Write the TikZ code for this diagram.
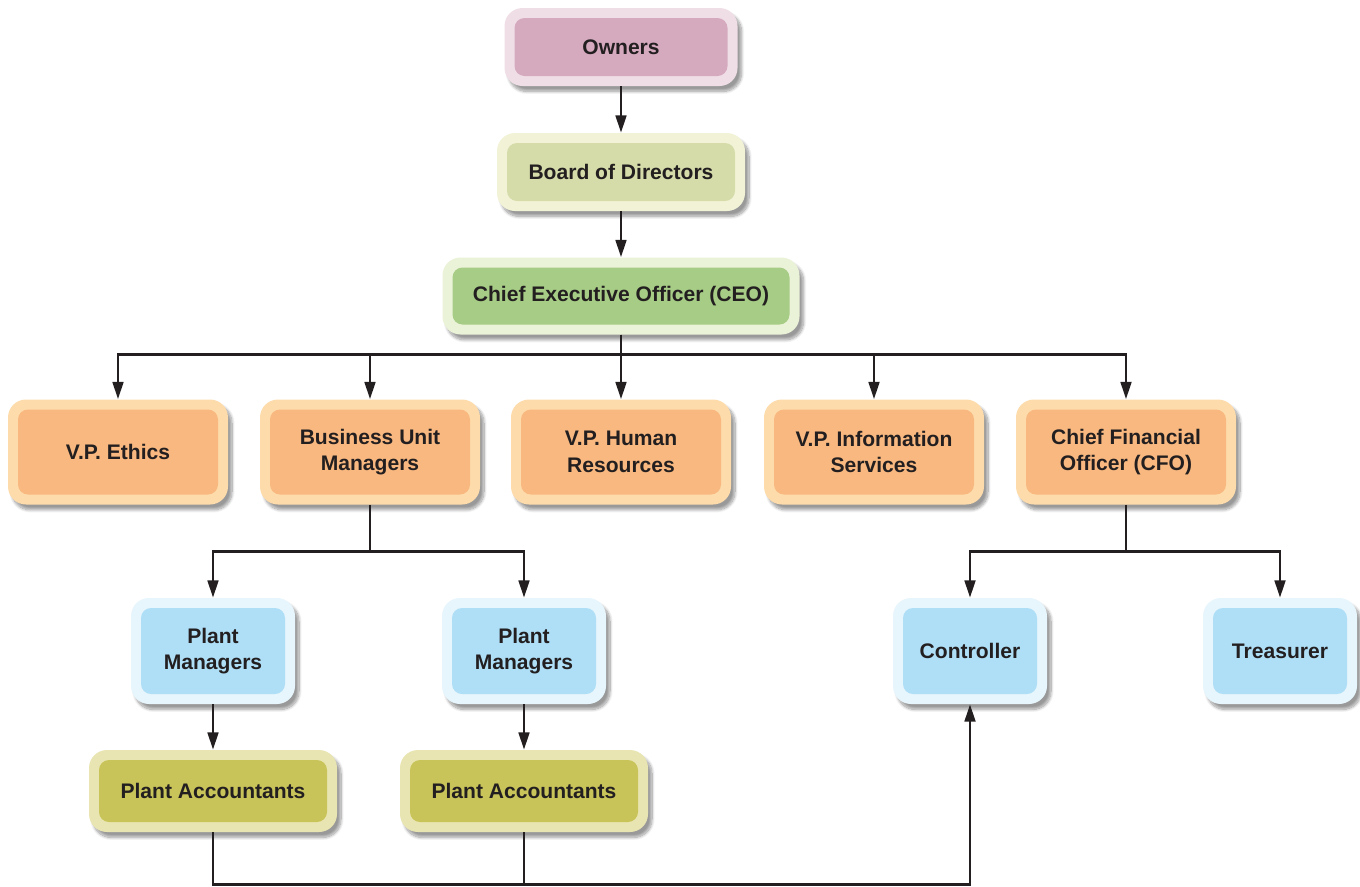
\documentclass[tikz,border=0pt]{standalone}
\usepackage{fontspec}
\setmainfont{Liberation Sans}
\usetikzlibrary{arrows.meta,shadows.blur}
\definecolor{txt}{HTML}{231F20}
\definecolor{ownIn}{HTML}{D5AABF}\definecolor{ownOut}{HTML}{F0DEE6}
\definecolor{brdIn}{HTML}{D5DCA9}\definecolor{brdOut}{HTML}{F2F3D6}
\definecolor{ceoIn}{HTML}{A6CC85}\definecolor{ceoOut}{HTML}{EAF2D7}
\definecolor{orIn}{HTML}{F8B880}\definecolor{orOut}{HTML}{FDDBAA}
\definecolor{blIn}{HTML}{AEDFF7}\definecolor{blOut}{HTML}{E7F5FC}
\definecolor{paIn}{HTML}{C8C45A}\definecolor{paOut}{HTML}{E9E5B2}
\tikzset{
  orgbox/.style 2 args={draw=none, fill=#2, rounded corners=13.5pt, inner sep=0pt,
    align=center, text=txt, font=\fontsize{15.8}{20}\selectfont\bfseries,
    blur shadow={shadow xshift=3pt, shadow yshift=-4pt, shadow blur steps=10, shadow opacity=40},
    path picture={\fill[#1, rounded corners=7.5pt]
      ([xshift=7.5pt,yshift=7.5pt]path picture bounding box.south west) rectangle
      ([xshift=-7.5pt,yshift=-7.5pt]path picture bounding box.north east);}},
  conn/.style={draw=txt, line width=2pt},
  arr/.style={conn, -{Triangle[length=13pt,width=8pt]}}
}
\begin{document}
\begin{tikzpicture}[x=0.75pt,y=-0.75pt]
\useasboundingbox (0,0) rectangle (1360,886);
\node[orgbox={ownIn}{ownOut}, minimum width=174.75pt, minimum height=58.5pt] (own) at (621,47) {Owners};
\node[orgbox={brdIn}{brdOut}, minimum width=186pt, minimum height=58.5pt] (brd) at (621,172) {Board of Directors};
\node[orgbox={ceoIn}{ceoOut}, minimum width=267.75pt, minimum height=57.75pt] (ceo) at (621,296) {Chief Executive Officer (CEO)};
\foreach \n/\x/\t in {eth/118/{V.P. Ethics}, bum/370/{Business Unit\\Managers}, hr/621/{V.P. Human\\Resources}, vis/874/{V.P. Information\\Services}, cfo/1126/{Chief Financial\\Officer (CFO)}}
  \node[orgbox={orIn}{orOut}, minimum width=165pt, minimum height=78.75pt] (\n) at (\x,452) {\t};
\node[orgbox={blIn}{blOut}, minimum width=123pt, minimum height=79.5pt] (pm1) at (213,651) {Plant\\Managers};
\node[orgbox={blIn}{blOut}, minimum width=123pt, minimum height=79.5pt] (pm2) at (524,651) {Plant\\Managers};
\node[orgbox={blIn}{blOut}, minimum width=115.5pt, minimum height=79.5pt] (ctl) at (970,651) {Controller};
\node[orgbox={blIn}{blOut}, minimum width=115.5pt, minimum height=79.5pt] (tre) at (1280,651) {Treasurer};
\node[orgbox={paIn}{paOut}, minimum width=186pt, minimum height=61.5pt] (pa1) at (213,791) {Plant Accountants};
\node[orgbox={paIn}{paOut}, minimum width=186pt, minimum height=61.5pt] (pa2) at (524,791) {Plant Accountants};
% connectors
\draw[arr] (own) -- (brd);
\draw[arr] (brd) -- (ceo);
\foreach \n in {eth,bum,vis,cfo}
  \draw[arr] (ceo.south) -- ++(0,20) -| (\n.north);
\draw[arr] (ceo.south) -- (hr.north);
\foreach \n in {pm1,pm2}
  \draw[arr] (bum.south) -- ++(0,47) -| (\n.north);
\foreach \n in {ctl,tre}
  \draw[arr] (cfo.south) -- ++(0,47) -| (\n.north);
\draw[arr] (pm1) -- (pa1);
\draw[arr] (pm2) -- (pa2);
\draw[arr] (pa1.south) -- ++(0,52) -| (ctl.south);
\draw[conn] (pa2.south) -- ++(0,52);
\end{tikzpicture}
\end{document}
